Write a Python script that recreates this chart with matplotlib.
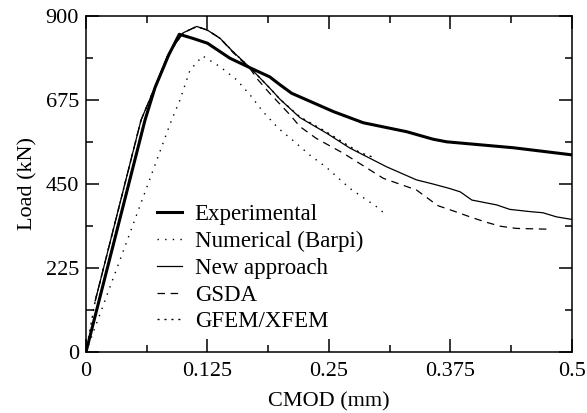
import numpy as np
import matplotlib
matplotlib.use('Agg')
import matplotlib.pyplot as plt
from matplotlib.ticker import MultipleLocator

plt.rcParams['font.family'] = ['Liberation Serif', 'DejaVu Serif']

# Experimental (thick solid)
exp_x = [0, 0.0607, 0.071, 0.085, 0.096, 0.11, 0.125, 0.148,
         0.169, 0.189, 0.2, 0.2116, 0.2545, 0.2853, 0.33, 0.357, 0.371, 0.44, 0.5]
exp_y = [0, 621, 708, 795, 851, 840, 827, 787,
         761, 737, 715, 693, 644, 614, 590, 570, 563, 547, 528]

# Numerical (Barpi) (dotted)
barpi_x = [0, 0.0624, 0.088, 0.0967, 0.107, 0.12, 0.138, 0.155,
           0.169, 0.182, 0.198, 0.215, 0.23, 0.2476, 0.2716, 0.299, 0.3076]
barpi_y = [0, 440, 621, 675, 755, 793, 764, 729,
           688, 644, 599, 562, 528, 494, 438, 389, 370]

# New approach (thin solid)
new_x = [0.0095, 0.0566, 0.071, 0.085, 0.1, 0.114, 0.125, 0.138, 0.151, 0.169,
         0.189, 0.1996, 0.22, 0.2476, 0.2716, 0.3093, 0.34, 0.357, 0.374, 0.385,
         0.397, 0.4225, 0.436, 0.457, 0.47, 0.484, 0.5]
new_y = [137, 621, 710, 800, 855, 872, 862, 840, 805, 761,
         707, 677, 628, 586, 546, 496, 461, 450, 438, 429,
         407, 394, 382, 376, 373, 362, 355]

# GSDA (dashed)
gsda_x = [0.0095, 0.0566, 0.071, 0.085, 0.1, 0.114, 0.125, 0.138, 0.151, 0.169,
          0.177, 0.189, 0.21, 0.22, 0.237, 0.265, 0.306, 0.34, 0.362, 0.38, 0.395,
          0.41, 0.426, 0.443, 0.474]
gsda_y = [137, 621, 710, 800, 855, 872, 862, 840, 803, 758,
          729, 693, 635, 604, 572, 532, 465, 434, 392, 376, 362,
          349, 337, 331, 329]

# GFEM/XFEM (dotted, close to the new approach)
gfem_x = [0, 0.0095, 0.0566, 0.071, 0.085, 0.1, 0.114, 0.125, 0.138, 0.151,
          0.169, 0.189, 0.1996, 0.22, 0.2476, 0.2716, 0.282, 0.294]
gfem_y = [0, 137, 621, 710, 800, 855, 872, 862, 840, 805,
          761, 707, 677, 630, 589, 550, 534, 523]

fig = plt.figure(figsize=(5.87, 4.13), dpi=100)
ax = fig.add_axes([0.1465, 0.1477, 0.8279, 0.8136])

ax.plot(exp_x, exp_y, color='black', lw=2.2, label='Experimental')
ax.plot(barpi_x, barpi_y, color='black', lw=1.0, ls=(0, (1, 4.5)), label='Numerical (Barpi)')
ax.plot(new_x, new_y, color='black', lw=0.9, label='New approach')
ax.plot(gsda_x, gsda_y, color='black', lw=0.9, ls=(0, (6, 4.5)), label='GSDA')
ax.plot(gfem_x, gfem_y, color='black', lw=1.0, ls=(0, (1.5, 3.5)), label='GFEM/XFEM')

ax.set_xlim(0, 0.5)
ax.set_ylim(0, 900)
ax.xaxis.set_major_locator(MultipleLocator(0.125))
ax.xaxis.set_minor_locator(MultipleLocator(0.0625))
ax.yaxis.set_major_locator(MultipleLocator(225))
ax.yaxis.set_minor_locator(MultipleLocator(112.5))
ax.set_xticks([0, 0.125, 0.25, 0.375, 0.5])
ax.set_xticklabels(['0', '0.125', '0.25', '0.375', '0.5'])
ax.tick_params(which='both', direction='in', top=True, right=True, width=1.1, labelsize=16)
ax.tick_params(which='major', length=9.5, pad=5)
ax.tick_params(axis='x', which='major', pad=7)
ax.tick_params(which='minor', length=5)
for s in ax.spines.values():
    s.set_linewidth(1.1)

ax.set_xlabel('CMOD (mm)', fontsize=16, labelpad=8)
ax.set_ylabel('Load (kN)', fontsize=16, labelpad=6)

ax.legend(loc='upper left', bbox_to_anchor=(0.146, 0.44), frameon=False, fontsize=16.5,
          handlelength=1.1, handletextpad=0.55, labelspacing=0.25, borderaxespad=0,
          borderpad=0)

fig.savefig('out.png', dpi=100)
